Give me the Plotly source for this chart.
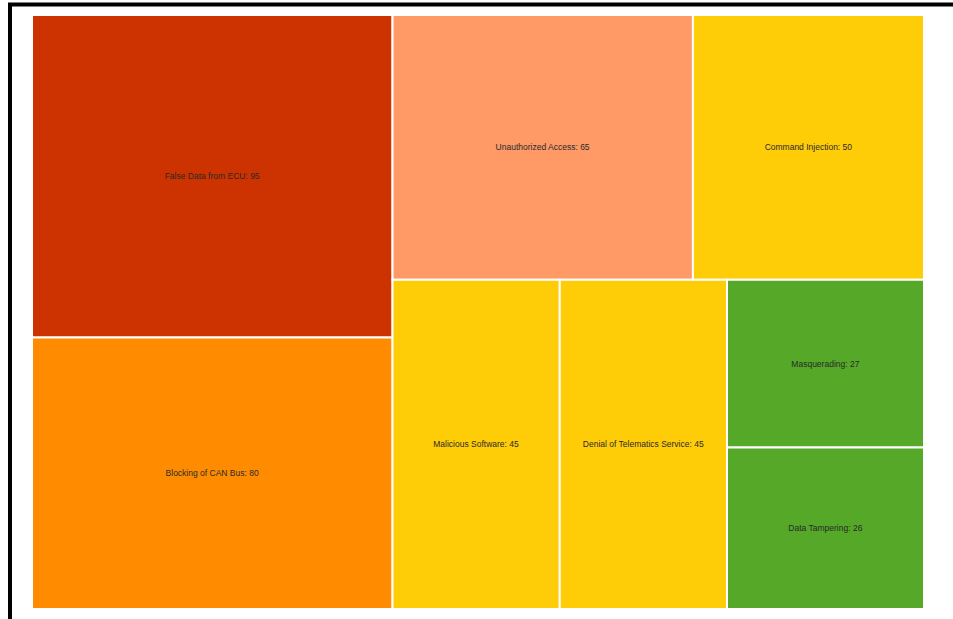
import plotly.graph_objects as go

labels = ["False Data from ECU", "Blocking of CAN Bus", "Unauthorized Access",
          "Command Injection", "Malicious Software", "Denial of Telematics Service",
          "Masquerading", "Data Tampering"]
values = [95, 80, 65, 50, 45, 45, 27, 26]
colors = ["#CC3300", "#FF8C00", "#FF9966", "#FFCC08", "#FFCC08", "#FFCC08",
          "#55A828", "#55A828"]

W, H = 953, 619
ml, mt = 32, 15
mr = W - 924
mb = H - 609
pw, ph = W - ml - mr, H - mt - mb

def px(x):
    return (x - ml) / pw

def py(y):
    return (H - mb - y) / ph

fig = go.Figure(go.Treemap(
    labels=labels,
    parents=[""] * len(labels),
    values=values,
    sort=False,
    texttemplate="%{label}: %{value}",
    textposition="middle center",
    textfont=dict(family="Liberation Sans, Arial, sans-serif", size=8.5, color="#2a2a2a"),
    marker=dict(colors=colors, line=dict(color="white", width=2),
                pad=dict(t=0, l=0, r=0, b=0)),
    tiling=dict(packing="squarify", pad=0),
    pathbar=dict(visible=False),
    hoverinfo="label+value",
))

fig.update_layout(
    width=W, height=H,
    margin=dict(l=ml, r=mr, t=mt, b=mb),
    paper_bgcolor="white",
    showlegend=False,
    shapes=[dict(type="rect", xref="paper", yref="paper",
                 x0=px(10), y0=py(640), x1=px(980), y1=py(4.5),
                 line=dict(color="black", width=4), fillcolor="rgba(0,0,0,0)")],
)

fig.write_html("out.html",
               config={"displayModeBar": False},
               post_script="document.body.style.margin='0';document.body.style.overflow='hidden';")
